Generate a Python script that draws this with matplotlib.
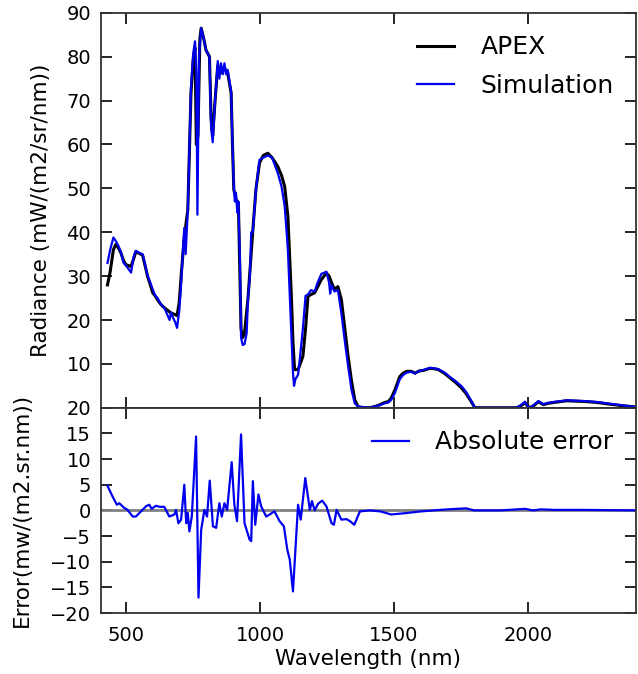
import numpy as np
import matplotlib
matplotlib.use("Agg")
import matplotlib.pyplot as plt

matplotlib.rcParams['font.size'] = 14

# APEX measured radiance
apex_wl = [430, 440, 452, 461, 470, 480, 490, 499, 518, 528, 536, 548, 561, 570, 580, 590,
           599, 608, 617, 630, 642, 655, 667, 680, 690, 698, 705, 717, 730, 742, 751, 757,
           762, 768, 775, 780, 790, 798, 811, 817, 823, 832, 842, 854, 867, 879, 892, 897,
           902, 910, 919, 925, 929, 935, 942, 955, 973, 985, 998, 1012, 1029, 1045, 1066,
           1080, 1092, 1104, 1110, 1117, 1123, 1129, 1142, 1150, 1160, 1170, 1179, 1190,
           1204, 1215, 1229, 1248, 1258, 1267, 1278, 1291, 1304, 1317, 1329, 1342, 1354,
           1366, 1380, 1410, 1430, 1448, 1465, 1479, 1490, 1504, 1522, 1535, 1548, 1565,
           1579, 1595, 1610, 1635, 1650, 1666, 1690, 1710, 1730, 1753, 1770, 1785, 1803,
           1850, 1900, 1959, 1975, 1990, 2000, 2009, 2025, 2040, 2059, 2075, 2096, 2120,
           2146, 2180, 2221, 2260, 2309, 2350, 2384, 2400]
apex_rad = [28, 31, 36, 37.2, 36.5, 35.3, 33.5, 32.6, 32.2, 34, 35.6, 35.2, 34.8, 32.5, 29.9, 28,
            26.2, 25.5, 24.6, 23.5, 22.8, 22.2, 21.6, 21.3, 21, 24, 29.9, 39, 45, 71.7, 80, 82,
            60, 62, 84, 86.5, 84, 81.5, 80, 66, 62, 70, 78, 76.3, 77.4, 76.3, 71.7, 60,
            49.7, 47.5, 46.7, 30, 18, 16, 17, 25, 40.5, 50, 55.8, 57.5, 58, 57, 55,
            53, 50.4, 43.6, 35, 25.4, 15, 8.7, 8.7, 10, 11.7, 18, 25.4, 25.8,
            26.2, 27.5, 29.2, 30.7, 30, 28.5, 27, 27.6, 24.6, 18, 11.7, 6, 1.8,
            0.3, 0, 0, 0.3, 0.7, 1.2, 1.4, 2.2, 4.1, 7.1, 7.9, 8.3, 8.3,
            7.9, 8.4, 8.5, 9.0, 8.9, 8.7, 7.8, 6.8, 5.8, 4.5, 3.2, 1.8, 0,
            0, 0, 0, 0.5, 1.1, 0.4, 0, 0.6, 1.4, 0.7, 1.0, 1.2, 1.4,
            1.6, 1.5, 1.4, 1.2, 0.8, 0.5, 0.3, 0.2]

# Simulated radiance
sim_wl = [430, 440, 452, 461, 470, 480, 490, 499, 510, 518, 528, 536, 548, 561, 570, 580,
          590, 599, 608, 617, 630, 642, 655, 662, 667, 675, 683, 690, 698, 705, 712, 717,
          722, 730, 742, 751, 757, 762, 766, 772, 780, 790, 798, 811, 817, 823, 832, 842,
          848, 854, 861, 867, 873, 879, 892, 897, 902, 906, 910, 915, 919, 925, 929, 935,
          942, 950, 955, 962, 967, 973, 985, 998, 1012, 1029, 1045, 1066, 1080, 1092, 1104,
          1110, 1117, 1123, 1127, 1132, 1142, 1150, 1160, 1170, 1179, 1190, 1204, 1215,
          1229, 1248, 1258, 1262, 1267, 1278, 1291, 1304, 1317, 1329, 1342, 1354, 1366,
          1410, 1430, 1448, 1465, 1479, 1490, 1504, 1522, 1535, 1548, 1565, 1579, 1595,
          1610, 1635, 1650, 1666, 1690, 1710, 1730, 1753, 1770, 1785, 1803, 1850, 1900,
          1959, 1975, 1990, 2000, 2009, 2025, 2040, 2059, 2075, 2096, 2120, 2146, 2180,
          2221, 2260, 2309, 2350, 2384, 2400]
sim_rad = [33, 36, 38.8, 38, 37, 35.5, 33, 32.4, 31.5, 30.8, 34.5, 35.8, 35.3, 35, 32.8, 30,
           28.5, 27, 25.6, 25, 23.5, 22.8, 21, 20, 21.8, 20.5, 19.5, 18.2, 22, 28, 36, 41,
           35, 45, 73, 81, 83.5, 76, 44, 80, 86.5, 84, 81.5, 80, 64, 60.5, 70, 79,
           75, 78.5, 76, 78.5, 76, 77, 72, 60, 50.5, 47, 49, 44.5, 47, 33, 16, 14.3,
           14.5, 17, 25, 30, 40, 40, 50, 56.5, 57, 57.5, 57, 53.5, 50.5, 46, 36,
           27, 17, 8, 5, 6.5, 7.5, 12, 18, 25.5, 25.8, 26.8, 26.5, 28.5,
           30.5, 31, 28.5, 26, 28, 26.5, 26.8, 21.5, 15, 9.5, 4, 1, 0.3,
           0, 0.3, 0.6, 1.0, 1.2, 1.8, 3.4, 6.5, 7.5, 8.0, 8.2, 7.8, 8.4,
           8.6, 9.1, 9.0, 8.8, 8.0, 7.0, 6.1, 4.9, 3.6, 2.0, 0, 0, 0,
           0, 0.6, 1.4, 0.3, 0, 0.7, 1.5, 0.8, 1.1, 1.3, 1.5, 1.7, 1.6,
           1.5, 1.3, 0.9, 0.6, 0.3, 0.2]

# Absolute error (simulation - APEX)
err_wl = [430, 449, 465, 474, 492, 505, 524, 536, 555, 574, 586, 595, 611, 624, 642, 661,
          680, 686, 695, 705, 717, 724, 730, 736, 745, 761, 770, 780, 792, 802, 812, 824,
          836, 848, 857, 867, 877, 894, 904, 914, 929, 942, 961, 967, 973, 982, 994, 1004,
          1023, 1036, 1054, 1073, 1089, 1102, 1111, 1123, 1142, 1152, 1169, 1186, 1194,
          1204, 1217, 1232, 1248, 1267, 1276, 1286, 1304, 1323, 1336, 1352, 1373, 1410,
          1450, 1490, 1550, 1600, 1650, 1700, 1770, 1800, 1900, 1990, 2020, 2050, 2100,
          2200, 2400]
err_val = [4.8, 2.7, 1.1, 1.4, 0.5, 0.1, -1.2, -1.2, -0.2, 0.8, 1.1, 0.3, 0.9, 0.7, 0.7, -1.2,
           -0.8, 0.1, -2.5, -1.8, 5.0, -2.5, -0.5, -4.1, -1.2, 14.4, -17, -3.8, 0.1, -1.2, 5.8, -3.1,
           -3.4, 1.4, -1.2, 1.4, 0.1, 9.4, 1.1, -2.1, 14.8, -2.5, -5.7, -6, 5.7, -2.8, 3.1, 0.8,
           -1.2, -0.8, -0.2, -2.1, -3.1, -7.7, -9.6, -15.8, 1.1, -1.8, 6.3, 0.1, 1.8,
           0, 1.3, 1.9, 0.8, -2.5, -2.8, 0.1, -1.8, -1.7, -2.1, -2.8, -0.2, 0,
           -0.2, -0.8, -0.5, -0.2, 0.0, 0.2, 0.4, 0.0, 0.0, 0.3, 0.0, 0.2, 0.1,
           0.1, 0.0]

fig = plt.figure(figsize=(6.38, 6.74), dpi=100)
ax1 = fig.add_axes([0.158, 0.395, 0.839, 0.586])
ax2 = fig.add_axes([0.158, 0.0905, 0.839, 0.3045], sharex=ax1)

ax1.plot(apex_wl, apex_rad, color='black', linewidth=2.2, label='APEX')
ax1.plot(sim_wl, sim_rad, color='#0000ee', linewidth=1.6, label='Simulation')
ax1.set_ylim(0, 90)
ax1.set_yticks(np.arange(10, 100, 10))
ax1.set_ylabel('Radiance (mW/(m2/sr/nm))', fontsize=15.5)
ax1.yaxis.set_label_coords(-0.093, 0.5)
ax1.legend(loc='upper right', frameon=False, fontsize=18, handlelength=1.5,
           handletextpad=1.05, labelspacing=0.58)
plt.setp(ax1.get_xticklabels(), visible=False)

ax2.axhline(0, color='gray', linewidth=2)
ax2.plot(err_wl, err_val, color='#0000ee', linewidth=1.6, label='Absolute error')
ax2.set_ylim(-20, 20)
ax2.set_yticks(np.arange(-20, 25, 5))
ax2.set_xlim(405, 2405)
ax2.set_xticks([500, 1000, 1500, 2000])
ax2.set_xlabel('Wavelength (nm)', fontsize=15.5, labelpad=3)
ax2.set_ylabel('Error(mw/(m2.sr.nm))', fontsize=15.5)
ax2.yaxis.set_label_coords(-0.128, 0.5)
ax2.legend(loc='upper right', frameon=False, fontsize=18, handlelength=1.5,
           handletextpad=1.05)

for ax in (ax1, ax2):
    ax.tick_params(direction='in', length=8, width=1.2, top=True, right=True,
                   labelsize=14, pad=7)
    ax.tick_params(axis='x', pad=9)
    for s in ax.spines.values():
        s.set_color('#333333')
        s.set_linewidth(1.3)

fig.savefig('out.png', dpi=100)
